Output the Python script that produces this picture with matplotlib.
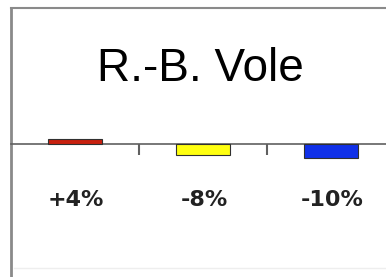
import matplotlib
matplotlib.use("Agg")
import matplotlib.pyplot as plt

categories = ["A", "B", "C"]
values = [4, -8, -10]
labels = ["+4%", "-8%", "-10%"]
colors = ["#c8200e", "#ffff10", "#1030e8"]
title = "R.-B. Vole"

W, H = 386, 277
fig = plt.figure(figsize=(W / 100, H / 100), dpi=100)
fig.patch.set_facecolor("white")

# axes: left edge x=11px, spans 3 categories of 128px; top y=8, bottom y=277
left_px, right_px = 11, 11 + 3 * 128
top_px, bot_px = 8, 277
ax = fig.add_axes([left_px / W, (H - bot_px) / H, (right_px - left_px) / W, (bot_px - top_px) / H])
ax.set_facecolor("white")

x = list(range(len(categories)))
ax.bar(x, values, width=0.42, color=colors, edgecolor="#303030", linewidth=0.8, zorder=3)

ax.set_xlim(-0.5, 2.5)
px_per_unit = 1.35
ax.set_ylim(-(bot_px - 144) / px_per_unit, (144 - top_px) / px_per_unit)

ax.spines["right"].set_visible(False)
ax.spines["left"].set_color("#8a8a8a")
ax.spines["left"].set_linewidth(2.0)
ax.spines["top"].set_color("#8a8a8a")
ax.spines["top"].set_linewidth(1.5)
ax.spines["bottom"].set_position(("data", 0))
ax.spines["bottom"].set_color("#606060")
ax.spines["bottom"].set_linewidth(1.2)

ax.set_xticks([0.5, 1.5])
ax.set_xticklabels([])
ax.tick_params(axis="x", direction="out", length=8, width=1.5, color="#606060")
ax.set_yticks([])

for xi, lab in zip(x, labels):
    ax.text(xi + 0.01, -(200 - 144) / px_per_unit, lab, ha="center", va="center",
            fontsize=16, fontweight="bold", color="#222222", family="DejaVu Sans")

fig.text(200 / W, 1 - 69 / H, title, ha="center", va="center",
         fontsize=33, family="Liberation Sans", color="black")

# faint bottom line
fig.add_artist(plt.Line2D([14 / W, 1], [1 - 268 / H, 1 - 268 / H], color="#eeeeee", linewidth=1))

fig.savefig("out.png", dpi=100)
